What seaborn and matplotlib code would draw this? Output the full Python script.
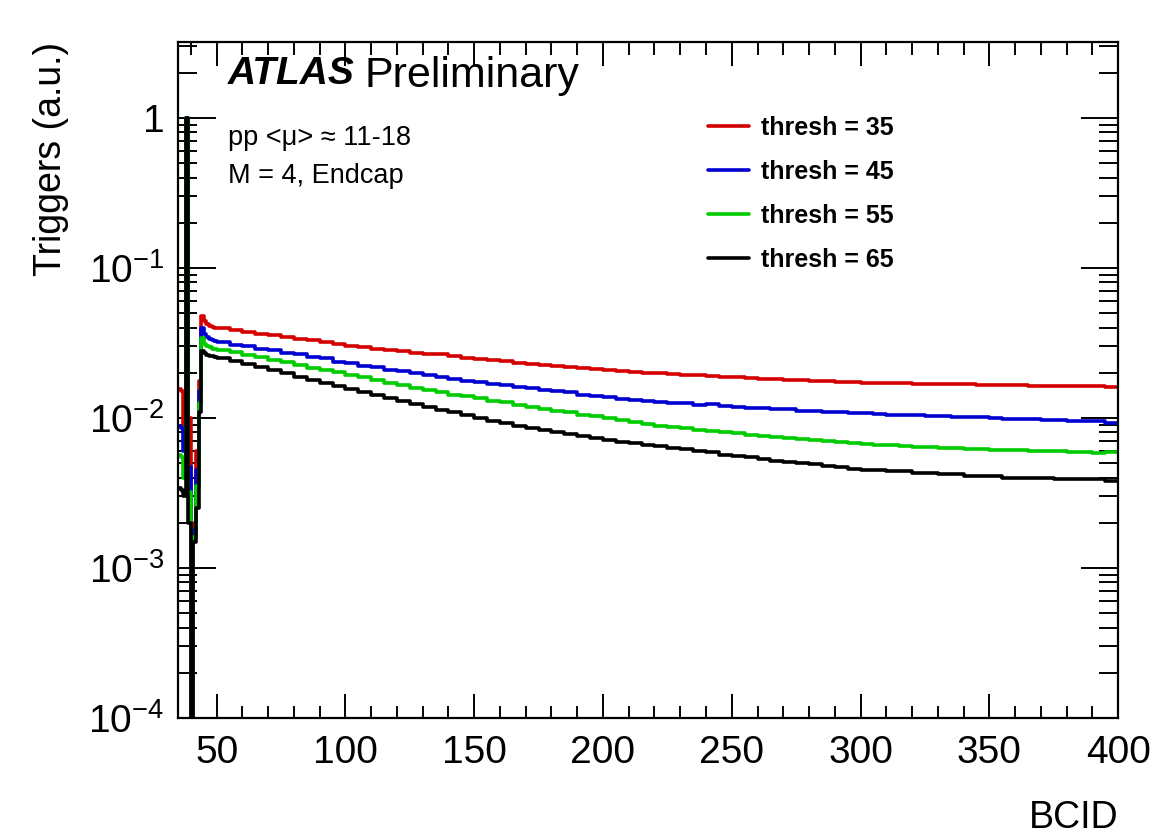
import numpy as np
import pandas as pd
import seaborn as sns
import matplotlib.pyplot as plt
from matplotlib.lines import Line2D
from matplotlib.ticker import MultipleLocator, FixedLocator, FixedFormatter, LogLocator, NullFormatter

# Bin edges: 1-BCID bins around the bunch-train start, 5-BCID bins afterwards
fine_edges = list(range(35, 50))
coarse_edges = list(range(50, 401, 5))
edges = fine_edges + coarse_edges

# Values per bin
red_fine = [0.0155, 0.0150, 0.0090, 1.0, 0.0100, 1e-6, 0.0020, 0.0060, 0.0175, 0.048, 0.044,
            0.0420, 0.0410, 0.0405, 0.0400]
blue_fine = [0.0088, 0.0086, 0.0060, 1.0, 0.0047, 1e-6, 0.0018, 0.0045, 0.0150, 0.040, 0.036,
             0.0345, 0.0335, 0.0330, 0.0325]
green_fine = [0.0057, 0.0055, 0.0040, 1.0, 0.0032, 1e-6, 0.0016, 0.0035, 0.0125, 0.034, 0.031,
              0.0300, 0.0295, 0.0290, 0.0288]
black_fine = [0.0034, 0.0033, 0.0030, 1.0, 0.0020, 1e-6, 0.0015, 0.0025, 0.0110, 0.028, 0.027,
              0.0262, 0.0260, 0.0258, 0.0255]

red_coarse = [0.0395, 0.0385, 0.0375, 0.0365, 0.0355, 0.0346, 0.0337, 0.0329, 0.0320, 0.0311,
              0.0303, 0.0297, 0.0290, 0.0284, 0.0278, 0.0272, 0.0266, 0.0268, 0.0258, 0.0252,
              0.0247, 0.0243, 0.0238, 0.0234, 0.0230, 0.0226, 0.0222, 0.0219, 0.0216, 0.0212,
              0.0209, 0.0206, 0.0203, 0.0200, 0.0198, 0.0196, 0.0194, 0.0192, 0.0190, 0.0188,
              0.0186, 0.0184, 0.0182, 0.0181, 0.0179, 0.0178, 0.0177, 0.0176, 0.0174, 0.0173,
              0.0172, 0.0172, 0.0171, 0.0170, 0.0169, 0.0169, 0.0168, 0.0167, 0.0167, 0.0166,
              0.0166, 0.0165, 0.0165, 0.0164, 0.0164, 0.0163, 0.0163, 0.0162, 0.0162, 0.0161]
blue_coarse = [0.0320, 0.0305, 0.0300, 0.0288, 0.0284, 0.0270, 0.0268, 0.0255, 0.0250, 0.0236,
               0.0232, 0.0222, 0.0218, 0.0210, 0.0207, 0.0198, 0.0192, 0.0188, 0.0183, 0.0176,
               0.0174, 0.0168, 0.0165, 0.0161, 0.0159, 0.0154, 0.0150, 0.0148, 0.0142, 0.0141,
               0.0138, 0.0134, 0.0132, 0.0129, 0.0128, 0.0126, 0.0125, 0.0122, 0.0123, 0.0120,
               0.0119, 0.0117, 0.0116, 0.0114, 0.0115, 0.0112, 0.0111, 0.0110, 0.0109, 0.0108,
               0.0107, 0.0106, 0.0105, 0.0105, 0.0104, 0.0103, 0.0103, 0.0102, 0.0101, 0.0101,
               0.0100, 0.0099, 0.0099, 0.0098, 0.0097, 0.0097, 0.0096, 0.0095, 0.0095, 0.0093]
green_coarse = [0.0285, 0.0275, 0.0264, 0.0255, 0.0244, 0.0235, 0.0226, 0.0216, 0.0210, 0.0201,
                0.0194, 0.0186, 0.0179, 0.0172, 0.0165, 0.0159, 0.0153, 0.0148, 0.0143, 0.0139,
                0.0135, 0.0130, 0.0127, 0.0122, 0.0119, 0.0115, 0.0112, 0.0109, 0.0105, 0.0103,
                0.0100, 0.0097, 0.0094, 0.0091, 0.0089, 0.0087, 0.0085, 0.0083, 0.0082, 0.0080,
                0.0079, 0.0077, 0.0076, 0.0075, 0.0073, 0.0072, 0.0071, 0.0070, 0.0069, 0.0068,
                0.0067, 0.0066, 0.0066, 0.0065, 0.0064, 0.0064, 0.0063, 0.0063, 0.0062, 0.0062,
                0.0061, 0.0061, 0.0061, 0.0060, 0.0060, 0.0060, 0.0059, 0.0059, 0.0058, 0.0059]
black_coarse = [0.0252, 0.0240, 0.0229, 0.0218, 0.0208, 0.0198, 0.0188, 0.0179, 0.0170, 0.0162,
                0.0155, 0.0148, 0.0142, 0.0136, 0.0130, 0.0124, 0.0118, 0.0113, 0.0109, 0.0104,
                0.0100, 0.0096, 0.0093, 0.0089, 0.0086, 0.0083, 0.0080, 0.0078, 0.0076, 0.0073,
                0.0071, 0.0069, 0.0068, 0.0066, 0.0065, 0.0063, 0.0062, 0.0060, 0.0059, 0.0057,
                0.0056, 0.0055, 0.0053, 0.0052, 0.0051, 0.0050, 0.0049, 0.0048, 0.0047, 0.0046,
                0.0045, 0.0045, 0.0044, 0.0044, 0.0043, 0.0043, 0.0042, 0.0042, 0.0041, 0.0041,
                0.0041, 0.0040, 0.0040, 0.0040, 0.0040, 0.0039, 0.0039, 0.0039, 0.0039, 0.0038]

thresholds = ["thresh = 35", "thresh = 45", "thresh = 55", "thresh = 65"]
colors = ["#d40000", "#0000d0", "#00cc00", "#000000"]
series = [red_fine + red_coarse, blue_fine + blue_coarse,
          green_fine + green_coarse, black_fine + black_coarse]

y_ticks = [1e-4, 1e-3, 1e-2, 1e-1, 1]
y_tick_labels = [r"$10^{-4}$", r"$10^{-3}$", r"$10^{-2}$", r"$10^{-1}$", "1"]

sns.set_style("ticks")
plt.rcParams["font.family"] = ["Liberation Sans", "DejaVu Sans"]
plt.rcParams["mathtext.fontset"] = "custom"
plt.rcParams["mathtext.rm"] = "Liberation Sans"
plt.rcParams["mathtext.it"] = "Liberation Sans:italic"
plt.rcParams["mathtext.bf"] = "Liberation Sans:bold"
for key in ["text.color", "axes.labelcolor", "xtick.color", "ytick.color", "axes.edgecolor"]:
    plt.rcParams[key] = "black"

fig = plt.figure(figsize=(11.53, 8.34), dpi=100)
ax = fig.add_axes([0.1544, 0.1391, 0.8153, 0.8105])

centers = [(a + b) / 2 for a, b in zip(edges[:-1], edges[1:])]
for label, col, vals in zip(thresholds, colors, series):
    df = pd.DataFrame({"bcid": centers, "trig": vals})
    sns.histplot(data=df, x="bcid", weights="trig", bins=edges, element="step",
                 fill=False, color=col, linewidth=2.6, ax=ax)

ax.set_yscale("log")
ax.set_xlim(35, 400)
ax.set_ylim(1e-4, 3.2)

# ROOT-like ticks on all sides, pointing inwards
ax.xaxis.set_major_locator(MultipleLocator(50))
ax.xaxis.set_minor_locator(MultipleLocator(10))
ax.yaxis.set_major_locator(FixedLocator(y_ticks))
ax.yaxis.set_major_formatter(FixedFormatter(y_tick_labels))
ax.yaxis.set_minor_locator(LogLocator(base=10, subs=np.arange(2, 10), numticks=20))
ax.yaxis.set_minor_formatter(NullFormatter())
ax.tick_params(which="both", direction="in", top=True, right=True, width=1.4, labelsize=28)
ax.tick_params(axis="x", which="major", length=17, pad=12)
ax.tick_params(axis="x", which="minor", length=9)
ax.tick_params(axis="y", which="major", length=27, pad=10)
ax.tick_params(axis="y", which="minor", length=14)
for sp in ax.spines.values():
    sp.set_linewidth(1.6)

ax.set_xlabel("BCID", fontsize=27, loc="right", labelpad=21)
ax.set_ylabel("Triggers (a.u.)", fontsize=27, loc="top", labelpad=14)

ax.text(0.053, 0.979, "ATLAS", transform=ax.transAxes, fontsize=28, fontweight="bold",
        fontstyle="italic", va="top")
ax.text(0.198, 0.979, "Preliminary", transform=ax.transAxes, fontsize=31, va="top")
ax.text(0.053, 0.878, "pp <\u03bc> \u2248 11-18", transform=ax.transAxes, fontsize=19.5, va="top")
ax.text(0.053, 0.821, "M = 4, Endcap", transform=ax.transAxes, fontsize=19.5, va="top")

handles = [Line2D([], [], color=c, linewidth=2.6) for c in colors]
ax.legend(handles, thresholds, loc="upper left", bbox_to_anchor=(0.54, 0.924), frameon=False,
          prop={"size": 18, "weight": "bold"}, handlelength=1.65, handletextpad=0.45,
          labelspacing=0.8)

fig.savefig("out.png", dpi=100)
